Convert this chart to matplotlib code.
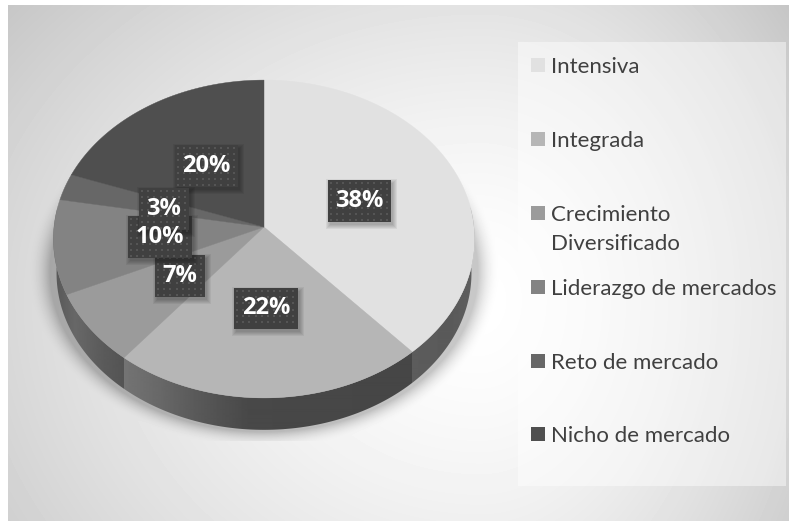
import numpy as np
import matplotlib
matplotlib.use("Agg")
import matplotlib.pyplot as plt
from matplotlib.patches import Polygon, Rectangle

categories = ["Intensiva", "Integrada", "Crecimiento\nDiversificado",
              "Liderazgo de mercados", "Reto de mercado", "Nicho de mercado"]
shares = [38.4, 22.4, 7.4, 9.6, 2.7, 19.5]
colors = ["#e1e1e1", "#b6b6b6", "#9b9b9b", "#838383", "#676767", "#4f4f4f"]

W, H = 789, 521
CX, CY = 264, 227
RX, RY, K = 210, 158, 0.0755
DEPTH = 34.5

plt.rcParams["font.family"] = ["Lato", "DejaVu Sans"]


def rim(theta):
    # tilted circle, theta clockwise from 12 o'clock
    w = 1 + K * np.cos(theta)
    return CX + RX * np.sin(theta) / w, CY - RY * np.cos(theta) / w


def background():
    yy, xx = np.mgrid[0:H, 0:W] + 0.5
    dx = (xx - 480) / np.where(xx < 480, 700, 450)
    dy = (yy - 300) / np.where(yy < 300, 540, 600)
    r = np.sqrt(dx ** 2 + dy ** 2)
    img = 255 - 70 * r ** 1.5

    # soft shadow under the pie
    s = np.sqrt(((xx - CX) / 214) ** 2 + ((yy - 272) / 160) ** 2)
    shade = np.clip(1 - (s - 1) * 214 / 22, 0, 1) ** 2
    shade[(yy < 170) | (yy > 441)] = 0
    img = img - 55 * shade
    img[:5, :] = 255
    img[:, :8] = 255
    return np.clip(img, 0, 255)


fig = plt.figure(figsize=(W / 100, H / 100), dpi=100)
ax = fig.add_axes([0, 0, 1, 1])
ax.imshow(background(), cmap="gray", vmin=0, vmax=255, extent=(0, W, H, 0),
          aspect="auto", interpolation="bilinear", zorder=0)
ax.axis("off")

# side wall of the pie
th = np.linspace(np.pi * 0.46, np.pi * 1.54, 300)
x_top, y_top = rim(th)
x_low = CX + 0.985 * (x_top - CX)
y_low = CY + 0.985 * (y_top - CY) + DEPTH
wall = Polygon(np.r_[np.c_[x_top, y_top], np.c_[x_low, y_low][::-1]],
               closed=True, fc="none", ec="none", zorder=1)
ax.add_patch(wall)
x_px = np.arange(40, 490)
stop_x = [40, 55, 75, 100, 123, 124, 160, 200, 250, 411, 412, 450, 490]
stop_v = [90, 88, 104, 92, 84, 116, 104, 88, 72, 70, 92, 90, 98]
wall_shade = np.interp(x_px, stop_x, stop_v)[None, :]
im = ax.imshow(wall_shade, cmap="gray", vmin=0, vmax=255, extent=(40, 490, 440, 150),
               aspect="auto", interpolation="bilinear", zorder=1)
im.set_clip_path(wall)
ax.set_xlim(0, W)
ax.set_ylim(H, 0)

# slices
edges = np.cumsum([0] + shares) / sum(shares) * 2 * np.pi
for a, b, col in zip(edges[:-1], edges[1:], colors):
    t = np.linspace(a, b, 120)
    x, y = rim(t)
    ax.fill(np.r_[CX, x], np.r_[CY, y], color=col, lw=0.3, zorder=2)

# data labels
label_boxes = [(328, 180, 63, 42), (234, 288, 64, 41), (155, 255, 50, 42),
               (128, 216, 64, 42), (139, 188, 50, 42), (175, 145, 63, 42)]
order = [0, 1, 2, 3, 5, 4]
for z, i in enumerate(order):
    bx, by, bw, bh = label_boxes[i]
    for grow in range(5, 0, -1):
        ax.add_patch(Rectangle((bx + 3 - grow, by + 4 - grow), bw + 2 * grow - 2, bh + 2 * grow - 2,
                               fc="black", ec="none", alpha=0.055, zorder=3 + z * 0.1))
    ax.add_patch(Rectangle((bx, by), bw, bh, fc="#404040", ec="none", zorder=3.01 + z * 0.1))
    gx, gy = np.meshgrid(np.arange(bx + 3, bx + bw - 1, 6.2), np.arange(by + 3, by + bh - 1, 6.2))
    ax.scatter(gx.ravel(), gy.ravel(), s=1.6, marker="s", c="#555555", lw=0, zorder=3.02 + z * 0.1)
for i, s in enumerate(shares):
    bx, by, bw, bh = label_boxes[i]
    ax.text(bx + bw / 2, by + bh / 2, f"{s:.0f}%", color="white", fontsize=17, fontweight="bold",
            family=["Open Sans", "DejaVu Sans"], ha="center", va="center", zorder=5)

# legend panel
ax.add_patch(Rectangle((518, 42), 268, 444, fc="white", ec="none", alpha=0.45, zorder=1))
legend_y = [65, 139, 213, 287, 361, 434]
for name, col, ly in zip(categories, colors, legend_y):
    ax.add_patch(Rectangle((531, ly - 7), 14, 14, fc=col, ec="none", zorder=2))
    ax.text(551, ly, name.split("\n")[0], color="#404040", fontsize=16, va="center_baseline", zorder=2)
    if "\n" in name:
        ax.text(551, ly + 29, name.split("\n")[1], color="#404040", fontsize=16,
                va="center_baseline", zorder=2)

fig.savefig("out.png", dpi=100)
